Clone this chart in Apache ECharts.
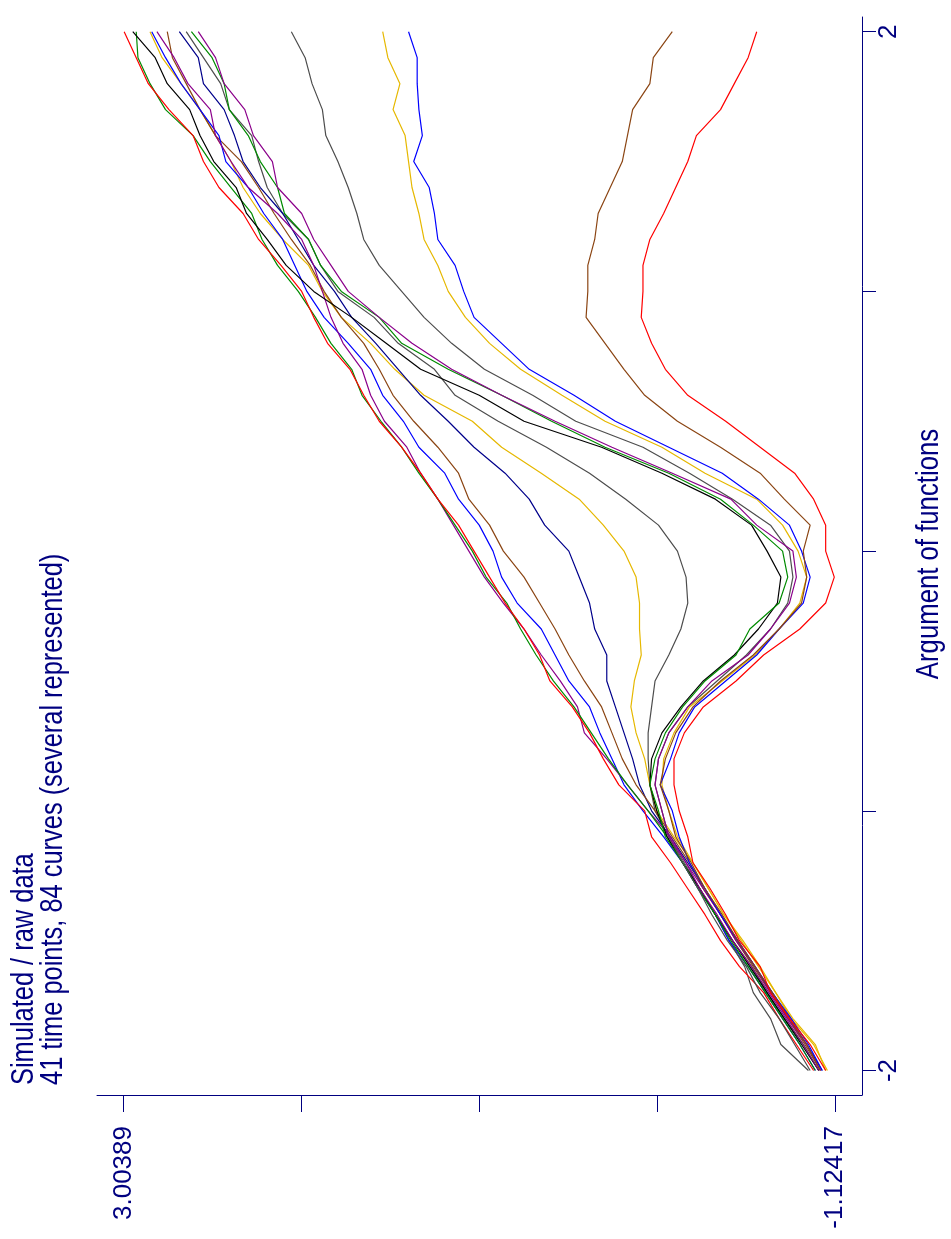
<!DOCTYPE html>
<html>
<head>
<meta charset="utf-8">
<style>
html,body{margin:0;padding:0;background:#ffffff;}
#chart{width:951px;height:1239px;}
</style>
<script src="https://cdn.jsdelivr.net/npm/echarts@6.0.0/dist/echarts.min.js"></script>
</head>
<body>
<div id="chart"></div>
<script>
// ---- data ----
const timePoints = [-2,-1.9,-1.8,-1.7,-1.6,-1.5,-1.4,-1.3,-1.2,-1.1,-1,-0.9,-0.8,-0.7,-0.6,-0.5,-0.4,-0.3,-0.2,-0.1,0,0.1,0.2,0.3,0.4,0.5,0.6,0.7,0.8,0.9,1,1.1,1.2,1.3,1.4,1.5,1.6,1.7,1.8,1.9,2];

const red1    = [-1.00,-0.90,-0.80,-0.71,-0.57,-0.46,-0.37,-0.27,-0.17,-0.06,-0.02,0.13,0.22,0.30,0.40,0.53,0.59,0.68,0.79,0.88,0.97,1.06,1.18,1.28,1.39,1.52,1.61,1.69,1.82,1.90,1.97,2.09,2.22,2.31,2.45,2.54,2.60,2.74,2.86,2.93,3.00];
const green1  = [-1.03,-0.94,-0.83,-0.73,-0.64,-0.53,-0.43,-0.34,-0.24,-0.15,-0.04,0.08,0.19,0.29,0.39,0.51,0.61,0.70,0.78,0.90,0.98,1.08,1.18,1.29,1.39,1.51,1.62,1.68,1.80,1.89,1.99,2.11,2.20,2.26,2.38,2.50,2.60,2.76,2.85,2.92,2.93];
const purple1 = [-1.04,-0.96,-0.85,-0.75,-0.66,-0.55,-0.46,-0.36,-0.26,-0.17,-0.04,0.08,0.20,0.33,0.37,0.47,0.58,0.68,0.80,0.91,1.00,1.09,1.18,1.28,1.36,1.49,1.57,1.62,1.73,1.80,1.85,1.90,1.97,2.11,2.28,2.38,2.47,2.50,2.63,2.71,2.81];
const blue1   = [-1.01,-0.92,-0.82,-0.72,-0.62,-0.51,-0.43,-0.33,-0.24,-0.13,-0.01,0.10,0.17,0.24,0.30,0.42,0.50,0.58,0.72,0.81,0.86,0.94,1.06,1.14,1.29,1.38,1.50,1.57,1.70,1.84,1.94,2.01,2.08,2.19,2.28,2.41,2.45,2.56,2.67,2.76,2.84];
const brown1  = [-1.04,-0.95,-0.85,-0.75,-0.65,-0.55,-0.46,-0.36,-0.28,-0.18,-0.08,0.03,0.11,0.17,0.23,0.33,0.42,0.50,0.59,0.68,0.80,0.88,1.00,1.06,1.18,1.32,1.44,1.52,1.61,1.74,1.84,1.92,2.03,2.13,2.22,2.32,2.47,2.56,2.64,2.72,2.75];
const navy1   = [-1.05,-0.96,-0.86,-0.76,-0.66,-0.56,-0.46,-0.37,-0.27,-0.17,-0.06,0.01,0.05,0.10,0.15,0.20,0.20,0.27,0.30,0.36,0.42,0.56,0.65,0.79,0.97,1.12,1.28,1.41,1.54,1.68,1.78,1.90,1.99,2.08,2.21,2.31,2.36,2.42,2.54,2.57,2.68];
const gold1   = [-1.07,-1.01,-0.88,-0.78,-0.69,-0.59,-0.48,-0.39,-0.30,-0.19,-0.09,-0.05,-0.02,0.03,0.06,0.04,0.00,0.01,0.01,0.03,0.10,0.22,0.36,0.58,0.81,0.98,1.26,1.43,1.57,1.74,1.85,1.93,2.08,2.21,2.31,2.38,2.47,2.56,2.67,2.78,2.85];
const gray1   = [-0.97,-0.81,-0.75,-0.65,-0.60,-0.51,-0.43,-0.34,-0.25,-0.16,-0.08,-0.05,-0.04,-0.04,-0.06,-0.08,-0.16,-0.23,-0.27,-0.26,-0.21,-0.10,0.09,0.30,0.55,0.83,1.08,1.20,1.41,1.55,1.76,1.86,1.93,2.08,2.17,2.22,2.26,2.39,2.44,2.54,2.64];
const black2  = [-1.03,-0.93,-0.83,-0.73,-0.63,-0.53,-0.43,-0.34,-0.24,-0.15,-0.09,-0.05,-0.06,-0.12,-0.23,-0.36,-0.54,-0.68,-0.79,-0.81,-0.73,-0.64,-0.43,-0.12,0.23,0.68,0.94,1.28,1.48,1.68,1.90,2.06,2.17,2.29,2.35,2.48,2.56,2.62,2.75,2.82,2.95];
const green2  = [-1.01,-0.92,-0.82,-0.72,-0.62,-0.52,-0.43,-0.33,-0.24,-0.14,-0.10,-0.05,-0.08,-0.14,-0.24,-0.37,-0.55,-0.63,-0.80,-0.85,-0.82,-0.65,-0.46,-0.16,0.21,0.52,0.81,1.12,1.39,1.52,1.74,1.86,1.93,2.07,2.11,2.21,2.28,2.39,2.42,2.49,2.61];
const purple2 = [-1.03,-0.94,-0.84,-0.74,-0.64,-0.53,-0.44,-0.34,-0.26,-0.16,-0.12,-0.08,-0.10,-0.16,-0.27,-0.41,-0.62,-0.75,-0.86,-0.90,-0.88,-0.67,-0.52,-0.18,0.17,0.50,0.81,1.10,1.33,1.52,1.70,1.80,1.90,1.97,2.11,2.14,2.25,2.30,2.42,2.47,2.57];
const gray2   = [-0.98,-0.89,-0.80,-0.69,-0.61,-0.50,-0.41,-0.33,-0.24,-0.16,-0.12,-0.08,-0.10,-0.16,-0.27,-0.44,-0.61,-0.75,-0.85,-0.88,-0.86,-0.75,-0.53,-0.28,-0.01,0.38,0.63,0.91,1.10,1.26,1.39,1.52,1.61,1.65,1.70,1.76,1.83,1.85,1.91,1.95,2.03];
const gold2   = [-1.08,-1.00,-0.87,-0.78,-0.68,-0.58,-0.48,-0.39,-0.30,-0.21,-0.16,-0.12,-0.13,-0.19,-0.28,-0.47,-0.66,-0.80,-0.92,-0.96,-0.91,-0.82,-0.67,-0.37,-0.12,0.21,0.46,0.70,0.88,1.02,1.12,1.18,1.26,1.29,1.33,1.35,1.37,1.44,1.40,1.47,1.50];
const blue2   = [-1.05,-0.97,-0.87,-0.76,-0.66,-0.56,-0.46,-0.37,-0.28,-0.22,-0.18,-0.11,-0.17,-0.22,-0.31,-0.49,-0.67,-0.80,-0.94,-0.98,-0.93,-0.86,-0.68,-0.47,-0.16,0.15,0.39,0.65,0.81,0.97,1.03,1.08,1.18,1.20,1.23,1.32,1.27,1.29,1.30,1.30,1.35];
const brown2  = [-1.04,-0.96,-0.86,-0.76,-0.66,-0.56,-0.47,-0.37,-0.29,-0.20,-0.16,-0.11,-0.14,-0.20,-0.30,-0.46,-0.65,-0.80,-0.93,-0.96,-0.94,-0.98,-0.83,-0.69,-0.46,-0.21,-0.02,0.10,0.21,0.32,0.31,0.31,0.27,0.25,0.18,0.11,0.08,0.05,-0.05,-0.07,-0.18];
const red2    = [-1.07,-0.98,-0.86,-0.75,-0.69,-0.57,-0.49,-0.40,-0.30,-0.27,-0.22,-0.19,-0.19,-0.25,-0.36,-0.55,-0.71,-0.92,-1.07,-1.12,-1.07,-1.07,-1.00,-0.89,-0.69,-0.49,-0.27,-0.14,-0.06,0.00,-0.01,-0.01,-0.05,-0.13,-0.20,-0.27,-0.32,-0.46,-0.54,-0.62,-0.67];

const valueTicks = [-1.12417, -0.092155, 0.93986, 1.971875, 3.00389];
const valueTickLabels = [-1.12417, 3.00389];
const argTicks = [-2, -1, 0, 1, 2];
const argTickLabels = [-2, 2];
const titleLines = ['Simulated / raw data', '41 time points, 84 curves (several represented)'];
const argAxisName = 'Argument of functions';

// ---- styling ----
const NAVY = '#000080';
const FONT = '"Liberation Sans", Arial, sans-serif';
const curves = [
  {name: 'gray1',   data: gray1,   color: '#4d4d4d'},
  {name: 'gold1',   data: gold1,   color: '#e6b800'},
  {name: 'navy1',   data: navy1,   color: '#00008b'},
  {name: 'brown1',  data: brown1,  color: '#8b4513'},
  {name: 'blue1',   data: blue1,   color: '#0000ff'},
  {name: 'purple1', data: purple1, color: '#8b008b'},
  {name: 'green1',  data: green1,  color: '#008b00'},
  {name: 'red1',    data: red1,    color: '#ff0000'},
  {name: 'black2',  data: black2,  color: '#000000'},
  {name: 'green2',  data: green2,  color: '#008b00'},
  {name: 'gray2',   data: gray2,   color: '#4d4d4d'},
  {name: 'purple2', data: purple2, color: '#8b008b'},
  {name: 'gold2',   data: gold2,   color: '#e6b800'},
  {name: 'blue2',   data: blue2,   color: '#0000ff'},
  {name: 'brown2',  data: brown2,  color: '#8b4513'},
  {name: 'red2',    data: red2,    color: '#ff0000'}
];

function rotatedText(text, x, y, align, size, sx) {
  return {
    type: 'text', x: x, y: y, rotation: Math.PI / 2, scaleX: sx, scaleY: 1, silent: true,
    style: {text: text, fill: NAVY, fontSize: size, fontFamily: FONT,
            align: align, verticalAlign: 'middle', textAlign: align, textVerticalAlign: 'middle'}
  };
}

const chart = echarts.init(document.getElementById('chart'), null, {renderer: 'canvas'});
chart.setOption({
  animation: false,
  backgroundColor: '#ffffff',
  grid: {left: 97, right: 89, top: 17, bottom: 144, containLabel: false},
  xAxis: {
    type: 'value',
    inverse: true,
    position: 'bottom',
    min: -1.2808,
    max: 3.1576,
    splitLine: {show: false},
    axisLine: {show: true, onZero: false, lineStyle: {color: NAVY, width: 1}},
    axisTick: {show: true, inside: false, length: 17, customValues: valueTicks, lineStyle: {color: NAVY, width: 1}},
    axisLabel: {
      show: true, customValues: valueTickLabels, rotate: 90, margin: 31,
      color: NAVY, fontSize: 26, fontFamily: FONT,
      formatter: v => String(v)
    }
  },
  yAxis: {
    type: 'value',
    position: 'right',
    min: -2.0943,
    max: 2.0566,
    splitLine: {show: false},
    axisLine: {show: true, onZero: false, lineStyle: {color: NAVY, width: 1}},
    axisTick: {show: true, inside: false, length: 14, customValues: argTicks, lineStyle: {color: NAVY, width: 1}},
    axisLabel: {
      show: true, customValues: argTickLabels, rotate: 90, margin: 14,
      color: NAVY, fontSize: 26, fontFamily: FONT,
      formatter: v => String(v)
    }
  },
  graphic: [
    rotatedText(titleLines[0], 24, 1085, 'left', 31, 0.82),
    rotatedText(titleLines[1], 53, 1085, 'left', 31, 0.82),
    rotatedText(argAxisName, 929, 554, 'center', 31, 0.83)
  ],
  series: curves.map(c => ({
    name: c.name,
    type: 'line',
    showSymbol: false,
    symbol: 'none',
    silent: true,
    smooth: false,
    lineStyle: {color: c.color, width: 1.2},
    itemStyle: {color: c.color},
    data: c.data.map((v, i) => [v, timePoints[i]])
  }))
});
</script>
</body>
</html>
